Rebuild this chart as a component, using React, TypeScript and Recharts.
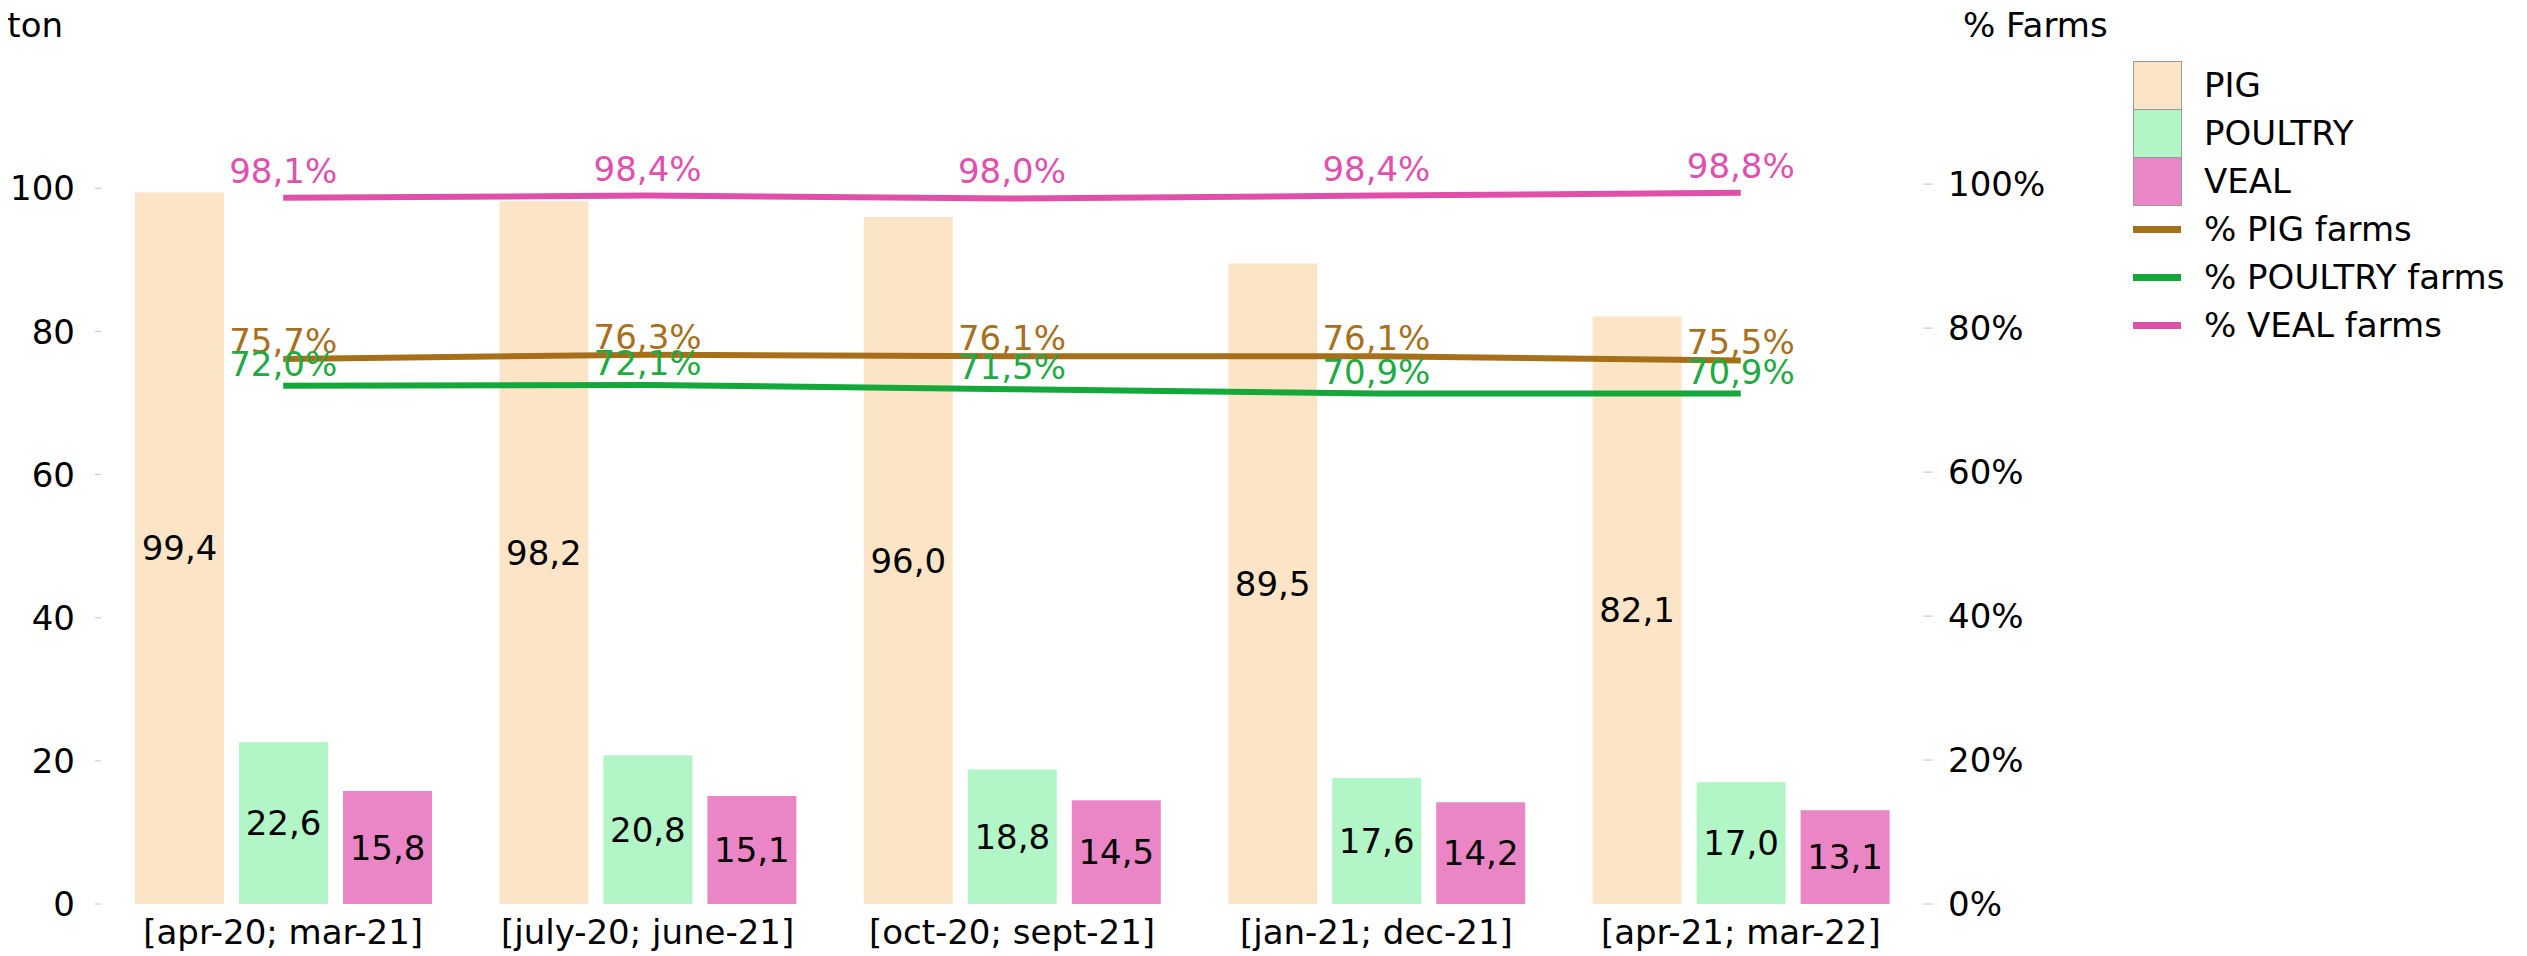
import React from 'react';
import { ComposedChart, Bar, Line, XAxis, YAxis, Legend, LabelList, Label } from 'recharts';

const categories = ['[apr-20; mar-21]', '[july-20; june-21]', '[oct-20; sept-21]', '[jan-21; dec-21]', '[apr-21; mar-22]'];
const pigTons = [99.4, 98.2, 96.0, 89.5, 82.1];
const poultryTons = [22.6, 20.8, 18.8, 17.6, 17.0];
const vealTons = [15.8, 15.1, 14.5, 14.2, 13.1];
const pigFarmsPct = [75.7, 76.3, 76.1, 76.1, 75.5];
const poultryFarmsPct = [72.0, 72.1, 71.5, 70.9, 70.9];
const vealFarmsPct = [98.1, 98.4, 98.0, 98.4, 98.8];
const leftTicks = [0, 20, 40, 60, 80, 100];
const rightTicks = [0, 20, 40, 60, 80, 100];

const data = categories.map((c, i) => ({
  cat: c,
  pig: pigTons[i],
  poultry: poultryTons[i],
  veal: vealTons[i],
  pigPct: pigFarmsPct[i],
  poultryPct: poultryFarmsPct[i],
  vealPct: vealFarmsPct[i],
}));

const C = {
  pigBar: '#FCE5C6',
  poultryBar: '#B2F6C7',
  vealBar: '#EB86C6',
  pigLine: '#A86F1A',
  poultryLine: '#14A83A',
  vealLine: '#E050AA',
  pigText: '#A8701C',
  poultryText: '#1EAA44',
  vealText: '#E050AE',
};

const FONT = 34;
const fmt = (v: number) => v.toFixed(1).replace('.', ',');
const fmtPct = (v: number) => fmt(v) + '%';

const legendItems = [
  { label: 'PIG', type: 'box', color: C.pigBar },
  { label: 'POULTRY', type: 'box', color: C.poultryBar },
  { label: 'VEAL', type: 'box', color: C.vealBar },
  { label: '% PIG farms', type: 'line', color: C.pigLine },
  { label: '% POULTRY farms', type: 'line', color: C.poultryLine },
  { label: '% VEAL farms', type: 'line', color: C.vealLine },
];

const LegendContent = () => (
  <div style={{ fontFamily: 'DejaVu Sans', fontSize: FONT, color: '#000' }}>
    {legendItems.map((it) => (
      <div key={it.label} style={{ display: 'flex', alignItems: 'center', height: 48 }}>
        <div style={{ width: 49, height: 48, display: 'flex', alignItems: 'center' }}>
          {it.type === 'box' ? (
            <div style={{ width: 47, height: 47, background: it.color, border: '1px solid #9a9a9a' }} />
          ) : (
            <div style={{ width: 48, height: 7, background: it.color }} />
          )}
        </div>
        <span style={{ marginLeft: 22, whiteSpace: 'nowrap' }}>{it.label}</span>
      </div>
    ))}
  </div>
);

export default function App() {
  return (
    <div style={{ position: 'absolute', left: 0, top: 0, fontFamily: 'DejaVu Sans', background: '#fff' }}>
      <ComposedChart
        width={2527}
        height={956}
        data={data}
        margin={{ top: 43, right: 484, bottom: 0, left: 0 }}
        barSize={89}
        barGap={15}
      >
        <XAxis
          dataKey="cat"
          axisLine={false}
          tickLine={false}
          tickSize={0}
          tickMargin={16}
          height={52}
          interval={0}
          tick={{ fontSize: FONT, fill: '#000' }}
        />
        <YAxis
          yAxisId="left"
          width={101}
          domain={[0, 120.3]}
          ticks={leftTicks}
          axisLine={false}
          tickLine={{ stroke: '#c4c4c4' }}
          tickSize={6}
          tickMargin={20}
          tick={{ fontSize: FONT, fill: '#000' }}
        >
          <Label
            content={(p: any) => (
              <text x={p.viewBox.x + p.viewBox.width - 38} y={37} textAnchor="end" fontSize={FONT} fill="#000">
                ton
              </text>
            )}
          />
        </YAxis>
        <YAxis
          yAxisId="right"
          orientation="right"
          width={120}
          domain={[0, 119.6]}
          ticks={rightTicks}
          tickFormatter={(v: number) => v + '%'}
          axisLine={false}
          tickLine={{ stroke: '#c4c4c4' }}
          tickSize={10}
          tickMargin={15}
          tick={{ fontSize: FONT, fill: '#000' }}
        >
          <Label
            content={(p: any) => (
              <text x={p.viewBox.x + 40} y={37} textAnchor="start" fontSize={FONT} fill="#000">
                % Farms
              </text>
            )}
          />
        </YAxis>
        <Legend
          layout="vertical"
          align="center"
          verticalAlign="middle"
          content={<LegendContent />}
          wrapperStyle={{ position: 'absolute', left: 2133, top: 61, width: 390 }}
        />
        <Bar yAxisId="left" dataKey="pig" fill={C.pigBar} isAnimationActive={false}>
          <LabelList dataKey="pig" position="center" formatter={fmt} fontSize={FONT} fill="#000" />
        </Bar>
        <Bar yAxisId="left" dataKey="poultry" fill={C.poultryBar} isAnimationActive={false}>
          <LabelList dataKey="poultry" position="center" formatter={fmt} fontSize={FONT} fill="#000" />
        </Bar>
        <Bar yAxisId="left" dataKey="veal" fill={C.vealBar} isAnimationActive={false}>
          <LabelList dataKey="veal" position="center" formatter={fmt} fontSize={FONT} fill="#000" />
        </Bar>
        <Line yAxisId="right" type="linear" dataKey="pigPct" stroke={C.pigLine} strokeWidth={6} dot={false} activeDot={false} isAnimationActive={false}>
          <LabelList dataKey="pigPct" position="top" offset={6} formatter={fmtPct} fontSize={FONT} fill={C.pigText} />
        </Line>
        <Line yAxisId="right" type="linear" dataKey="poultryPct" stroke={C.poultryLine} strokeWidth={6} dot={false} activeDot={false} isAnimationActive={false}>
          <LabelList dataKey="poultryPct" position="top" offset={10} formatter={fmtPct} fontSize={FONT} fill={C.poultryText} />
        </Line>
        <Line yAxisId="right" type="linear" dataKey="vealPct" stroke={C.vealLine} strokeWidth={6} dot={false} activeDot={false} isAnimationActive={false}>
          <LabelList dataKey="vealPct" position="top" offset={15} formatter={fmtPct} fontSize={FONT} fill={C.vealText} />
        </Line>
      </ComposedChart>
    </div>
  );
}
